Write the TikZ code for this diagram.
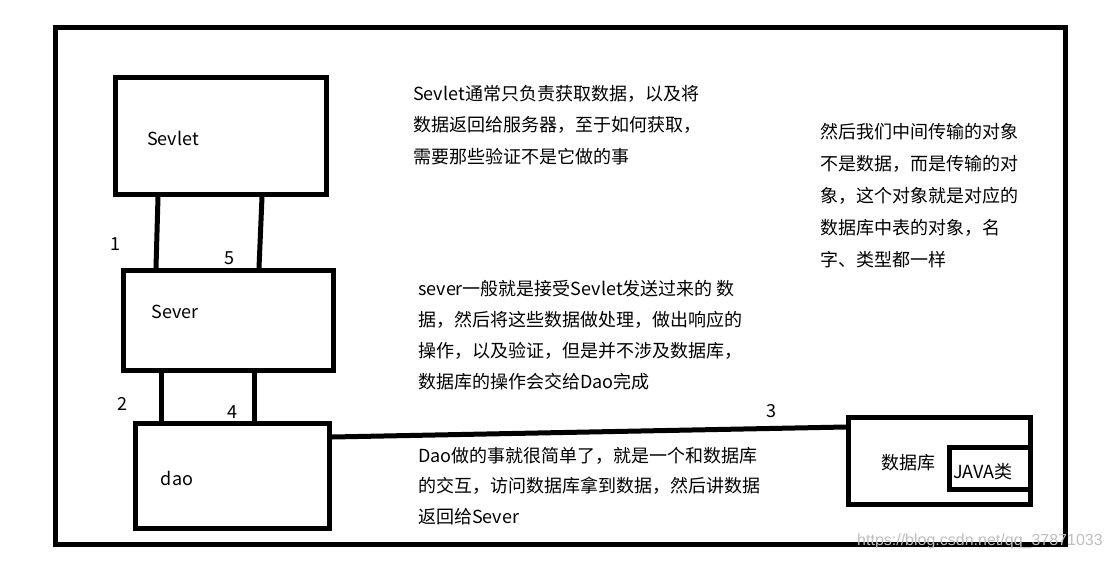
\documentclass[tikz,border=0pt]{standalone}
\usepackage{fontspec}
\setmainfont{Noto Sans CJK SC}
\newfontfamily\wmfont{Liberation Sans}
\usetikzlibrary{calc}
\begin{document}
\begin{tikzpicture}[x=1pt,y=-1pt,
  box/.style={draw=black,line width=5pt,minimum width=#1,inner sep=0pt},
  link/.style={draw=black,line width=5pt,line cap=round},
  lbl/.style={font=\fontsize{18}{22}\selectfont,inner sep=0pt},
  para/.style={font=\fontsize{18}{31.5}\selectfont,align=left,anchor=north west,inner sep=0pt},
]
\useasboundingbox (0,0) rectangle (1111,560);
\fill[white] (0,0) rectangle (1111,560);
% outer frame
\draw[line width=5pt] (55.5,27.5) rectangle (1065.5,544);

% boxes
\node[box=211pt,minimum height=117pt] (servlet) at (221,136) {};
\node[box=210pt,minimum height=100pt] (sever) at (228.5,320.5) {};
\node[box=194pt,minimum height=105pt] (dao) at (232.5,476) {};
\node[box=182pt,minimum height=87pt] (db) at (939.5,461) {};
\node[box=81pt,minimum height=42pt,anchor=north east] (java) at ($(db.north east)+(0,30)$) {};

% box labels
\node[lbl] (tservlet) at (173,138) {Sevlet};
\node[lbl] (tsever) at (175,312) {Sever};
\node[lbl] (tdao) at (177,478) {dao};
\node[lbl] (tdb) at (908,463) {数据库};
\node[lbl] (tjava) at (983,472) {JAVA类};

% connectors
\draw[link] ($(servlet.south west)+(45,0)$) -- ($(sever.north west)+(35,0)$);
\draw[link] ($(servlet.south west)+(149,0)$) -- ($(sever.north west)+(138,0)$);
\draw[link] ($(sever.south west)+(40,0)$) -- ($(dao.north west)+(28,0)$);
\draw[link] ($(sever.south west)+(133,0)$) -- ($(dao.north west)+(121,0)$);
\draw[link] ($(dao.north east)+(0,16)$) -- ($(db.north west)+(0,12)$);

% numbers
\node[lbl] (n1) at (115,244) {1};
\node[lbl] (n5) at (229,258) {5};
\node[lbl] (n2) at (122,404) {2};
\node[lbl] (n4) at (232,412) {4};
\node[lbl] (n3) at (771,411) {3};

% paragraphs
\node[para] (p1) at (413,85) {Sevlet通常只负责获取数据，以及将\\数据返回给服务器，至于如何获取，\\需要那些验证不是它做的事};
\node[para,font=\fontsize{18}{32}\selectfont] (p2) at (820,123) {然后我们中间传输的对象\\不是数据，而是传输的对\\象，这个对象就是对应的\\数据库中表的对象，名\\字、类型都一样};
\node[para,font=\fontsize{18}{31}\selectfont] (p3) at (418,280) {sever一般就是接受Sevlet发送过来的 数\\据，然后将这些数据做处理，做出响应的\\操作，以及验证，但是并不涉及数据库，\\数据库的操作会交给Dao完成};
\node[para,font=\fontsize{18}{30.5}\selectfont] (p4) at (418,447) {Dao做的事就很简单了，就是一个和数据库\\的交互，访问数据库拿到数据，然后讲数据\\返回给Sever};

% watermark
\node[font=\wmfont\fontsize{16}{19}\selectfont,text=black!25,inner sep=0pt,anchor=west] (wm) at (857,541) {https://blog.csdn.net/qq\_37871033};
\end{tikzpicture}
\end{document}
